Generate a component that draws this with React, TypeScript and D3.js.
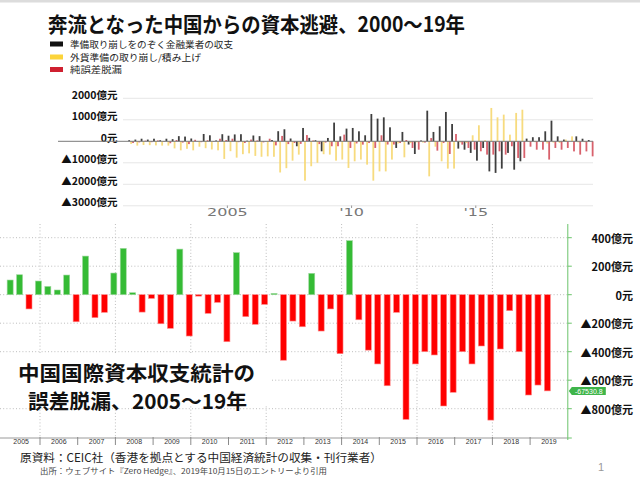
import React, { useEffect } from 'react';
import * as d3 from 'd3';

// ---------- Data ----------
const titleText = '奔流となった中国からの資本逃避、2000～19年';
const legendLabels = ['準備取り崩しをのぞく金融業者の収支', '外貨準備の取り崩し/積み上げ', '純誤差脱漏'];

const topStartYear = 2001;
// quarterly, 2001Q1 .. 2019Q3 (億元 scale as labelled)
const topBlack = [50, 80, 120, 80, 120, 50, 120, 100, 240, 220, 130, 10, 340, 280, 40, 330, 260, 320, 330, 30,
  270, 240, 10, 60, 470, 560, 130, -230, 620, 160, 50, -465, 155, 870, 230, 590, 620, 465, 280, 1270,
  1055, 1115, 650, -310, 435, -150, -590, 40, 1425, 435, 700, 1365, 805, -340, -390, -540, -900, -310, -1400, -1470,
  -1270, -540, -1320, -930, 125, 190, 190, 465, 960, 230, 80, 0, 230, 120, 60];
const topYellow = [-120, -200, -170, -180, -190, -200, -200, -330, -420, -350, -420, -250, -320, -380, -420, -820, -460, -760, -600, -560,
  -680, -720, -700, -720, -1450, -1250, -900, -620, -1830, -1160, -1000, -600, -620, -900, -850, -1240, -930, -850, -1085, -1830,
  -1400, -1400, -850, -100, -745, -80, -50, -60, -1630, -250, -930, -1270, -1270, -60, -80, 280, 745, 50, 1550, 1115,
  1240, 310, 1320, 1470, -30, -40, -30, -100, -60, -80, 80, 230, -50, -40, 0];
const topRed = [-80, -50, 30, -40, 40, -30, -90, 60, -60, -130, 70, -40, 50, -30, 120, 60, 120, -40, -80, 80,
  40, -50, 120, -190, 250, -130, -80, -120, 290, 40, -130, -60, -230, -230, 310, -310, -100, -155, -80, -310,
  280, -150, -150, -80, 60, -310, -390, -60, 150, -435, -80, -590, 340, -155, -310, -390, -465, -620, -620, -465,
  -620, -230, -775, -775, -250, -390, -390, -850, -310, -390, -310, -470, -620, -470, -700];
const topYTicks = [2000, 1000, 0, -1000, -2000, -3000];
const topYLabels = ['2000億元', '1000億元', '0元', '▲1000億元', '▲2000億元', '▲3000億元'];
const topXTicks = [2005, 2010, 2015];
const topXLabels = ['2005', "'10", "'15"];

const bottomStartYear = 2005;
// quarterly, 2005Q1 .. 2019Q2 (億元)
const bottomValues = [103, 140, -100, 96, 58, 33, 138, -190, 271, -161, -124, 152, 325, 14, -122, -26, -204, -236, 320, -290,
  -10, -131, -54, -330, 295, -154, -208, -68, 9, -460, -185, -225, 150, -255, -100, -414, 379, -176, -389, -486,
  -639, -124, -875, -486, -400, -423, -781, -685, -400, -486, -360, -880, -381, -112, -400, -704, -634, -675];
const bottomYTicks = [400, 200, 0, -200, -400, -600, -800];
const bottomYLabels = ['400億元', '200億元', '0元', '▲200億元', '▲400億元', '▲600億元', '▲800億元'];
const bottomYears = [2005, 2006, 2007, 2008, 2009, 2010, 2011, 2012, 2013, 2014, 2015, 2016, 2017, 2018, 2019];
const lastValueTag = '-67530.8';
const bottomTitle = ['中国国際資本収支統計の', '誤差脱漏、2005～19年'];
const sourceText = '原資料：CEIC社（香港を拠点とする中国経済統計の収集・刊行業者）';
const footerText = '出所：ウェブサイト『Zero Hedge』、2019年10月15日のエントリーより引用';
const pageNumber = '1';

const JP = "'Noto Sans CJK JP', 'Noto Sans', sans-serif";

export default function App() {
  useEffect(() => {
    document.body.style.margin = '0';
  }, []);

  // top chart scales
  const xTop = d3.scaleLinear().domain([2001, 2020]).range([128, 600]);
  const yTop = d3.scaleLinear().domain([0, 1000]).range([141.3, 119.8]);
  const topSeries = [
    { vals: topBlack, color: '#2a2a2a', k: 0 },
    { vals: topYellow, color: '#f6d770', k: 1 },
    { vals: topRed, color: '#d4505c', k: 2 },
  ];

  // bottom chart scales
  const xBot = d3.scaleLinear().domain([2005, 2020]).range([2.3, 567.8]);
  const yBot = d3.scaleLinear().domain([0, 200]).range([294.7, 266.2]);
  const axisY = 438;
  const lastVal = bottomValues[bottomValues.length - 1];

  return (
    <svg width={640} height={484} style={{ position: 'absolute', left: 0, top: 0, background: '#fff' }}>
      <rect x={0} y={0} width={640} height={484} fill="#fff" />
      <rect x={0} y={0} width={640} height={2.5} fill="#dcdcdc" />

      {/* title */}
      <text x={48} y={22.5} fontFamily={JP} fontWeight={700} fontSize={21} dominantBaseline="central"
        textLength={417} lengthAdjust="spacingAndGlyphs" fill="#111">{titleText}</text>

      {/* legend */}
      {legendLabels.map((l, i) => {
        const cy = [44, 57, 69.5][i];
        const col = ['#111', '#fcd43a', '#cf2030'][i];
        const tl = [163, 131, 52][i];
        return (
          <g key={l}>
            <rect x={50} y={cy - 2.5} width={13} height={5} fill={col} />
            <text x={70} y={cy} fontFamily={JP} fontSize={9} dominantBaseline="central" fill="#222"
              textLength={tl} lengthAdjust="spacingAndGlyphs">{l}</text>
          </g>
        );
      })}

      {/* top chart grid */}
      {topYTicks.map((t, i) => (
        <g key={'tg' + t}>
          {t !== 0 && <line x1={123} x2={593} y1={yTop(t)} y2={yTop(t)} stroke="#e6e6e6" strokeWidth={1} />}
          <text x={117.5} y={yTop(t) - 4} textAnchor="end" dominantBaseline="central" fontFamily={JP}
            fontWeight={700} fontSize={10.5} fill="#111">{topYLabels[i]}</text>
        </g>
      ))}

      {/* top bars */}
      {topSeries.map((s) => s.vals.map((v, i) => {
        const x0 = xTop(topStartYear + i / 4) + 0.25 + s.k * 1.95;
        const y0 = yTop(Math.max(0, v));
        const h = Math.abs(yTop(v) - yTop(0));
        return <rect key={s.k + '-' + i} x={x0} y={y0} width={1.8} height={h} fill={s.color} opacity={0.9} />;
      }))}
      <line x1={58} x2={593} y1={yTop(0)} y2={yTop(0)} stroke="#7a7a7a" strokeWidth={1} />

      {/* top x labels */}
      {topXTicks.map((t, i) => (
        <g key={'tx' + t}>
          <line x1={xTop(t)} x2={xTop(t)} y1={205.5} y2={208} stroke="#999" strokeWidth={1} />
          <text transform={`translate(${xTop(t)},${213}) scale(1.6,1)`} textAnchor="middle" dominantBaseline="central"
            fontFamily="'DejaVu Sans', sans-serif" fontSize={10} fill="#777">{topXLabels[i]}</text>
        </g>
      ))}

      {/* bottom chart gridlines */}
      {bottomYTicks.map((t) => (
        <line key={'bg' + t} x1={0} x2={xBot(2020)} y1={yBot(t)} y2={yBot(t)} stroke="#bdbdbd"
          strokeWidth={1} strokeDasharray="1,2.2" />
      ))}
      {bottomYears.filter((y) => (y - 2006) % 2 === 0).map((y) => (
        <line key={'bv' + y} x1={xBot(y)} x2={xBot(y)} y1={224} y2={axisY} stroke="#bdbdbd"
          strokeWidth={1} strokeDasharray="1,2.2" />
      ))}

      {/* bottom bars */}
      {bottomValues.map((v, i) => {
        const t = bottomStartYear + Math.floor(i / 4) + ((i % 4) * 3 + 2.5) / 12;
        const cx = xBot(t);
        const y0 = yBot(Math.max(0, v));
        const h = Math.abs(yBot(v) - yBot(0));
        const pos = v >= 0;
        return (
          <rect key={'bb' + i} x={cx - 3} y={y0} width={6} height={h}
            fill={pos ? '#35bb35' : '#ff0000'} stroke={pos ? '#9cd89c' : '#ff8a8a'} strokeWidth={0.6} />
        );
      })}

      {/* white box behind the bottom caption */}
      <rect x={0} y={354} width={272} height={52} fill="#fff" />
      {bottomTitle.map((l, i) => (
        <text key={l} x={i === 0 ? 18 : 28} y={i === 0 ? 372 : 399.5} dominantBaseline="central" fontFamily={JP}
          fontWeight={700} fontSize={20.5} fill="#111" textLength={i === 0 ? 237 : 219}
          lengthAdjust="spacingAndGlyphs">{l}</text>
      ))}

      {/* bottom x axis */}
      <line x1={0} x2={xBot(2020)} y1={axisY} y2={axisY} stroke="#9a9a9a" strokeWidth={1} />
      {bottomYears.slice(1).map((y) => (
        <line key={'bt' + y} x1={xBot(y)} x2={xBot(y)} y1={axisY - 1} y2={axisY + 7} stroke="#8a8a8a" strokeWidth={1} />
      ))}
      {bottomYears.map((y) => (
        <text key={'bl' + y} x={xBot(y + 0.5)} y={441.5} textAnchor="middle" dominantBaseline="central"
          fontFamily="'Liberation Sans', Arial, sans-serif" fontSize={7} fill="#333">{String(y)}</text>
      ))}

      {/* right axis */}
      <line x1={xBot(2020)} x2={xBot(2020)} y1={224} y2={axisY + 2} stroke="#6cc46c" strokeWidth={1} />
      {bottomYTicks.map((t, i) => (
        <g key={'br' + t}>
          <line x1={xBot(2020)} x2={xBot(2020) + 4} y1={yBot(t)} y2={yBot(t)} stroke="#6cc46c" strokeWidth={1} />
          <text x={633} y={yBot(t)} textAnchor="end" dominantBaseline="central" fontFamily={JP} fontWeight={700}
            fontSize={11} fill="#111">{bottomYLabels[i]}</text>
        </g>
      ))}
      <line x1={xBot(2020)} x2={xBot(2020) + 4} y1={axisY} y2={axisY} stroke="#6cc46c" strokeWidth={1} />

      {/* last value tag */}
      <g transform={`translate(${xBot(2020) + 1},${yBot(lastVal)})`}>
        <path d="M0,0 L3,-4 L37,-4 L37,4 L3,4 Z" fill="#3fb54a" />
        <text x={20} y={0.3} textAnchor="middle" dominantBaseline="central" fontFamily="'Liberation Sans', Arial, sans-serif"
          fontSize={7} fill="#fff">{lastValueTag}</text>
      </g>

      {/* source & footer */}
      <text x={20} y={457} dominantBaseline="central" fontFamily={JP} fontSize={11.5} fill="#222"
        textLength={362} lengthAdjust="spacingAndGlyphs">{sourceText}</text>
      <text x={40} y={470} dominantBaseline="central" fontFamily={JP} fontSize={7.5} fill="#444"
        textLength={287} lengthAdjust="spacingAndGlyphs">{footerText}</text>
      <text x={601} y={467} textAnchor="middle" dominantBaseline="central" fontFamily="'Liberation Sans', Arial, sans-serif"
        fontSize={11} fill="#999">{pageNumber}</text>
    </svg>
  );
}
